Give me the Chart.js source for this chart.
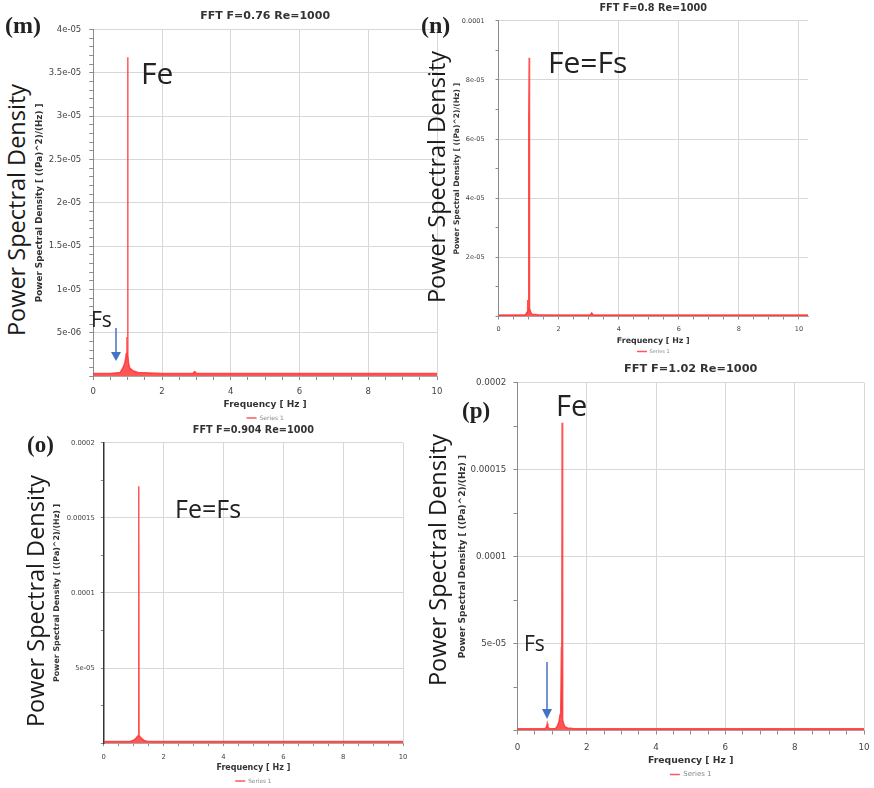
<!DOCTYPE html>
<html>
<head>
<meta charset="utf-8">
<script src="https://cdn.jsdelivr.net/npm/chart.js@4.4.1/dist/chart.umd.min.js"></script>
<style>
  body { margin: 0; width: 874px; height: 788px; background: #fff; overflow: hidden; position: relative; }
  canvas { position: absolute; }
  .tag { position: absolute; font-family: "Liberation Serif", serif; font-weight: bold; color: #222; line-height: 1; white-space: nowrap; }
  .psd { position: absolute; font-family: "Open Sans", sans-serif; font-size: 23.5px; color: #1a1a1a; line-height: 1; white-space: nowrap; transform: translate(-50%, -50%) rotate(-90deg); }
  .ann { position: absolute; font-family: "Open Sans", sans-serif; color: #222; line-height: 1; white-space: nowrap; }
  svg { position: absolute; left: 0; top: 0; }
</style>
</head>
<body>
<canvas id="cm"></canvas>
<canvas id="cn"></canvas>
<canvas id="co"></canvas>
<canvas id="cp"></canvas>

<div class="tag" style="left:5px;top:13px;font-size:24px">(m)</div>
<div class="tag" style="left:421px;top:13px;font-size:24px">(n)</div>
<div class="tag" style="left:27px;top:433px;font-size:23px">(o)</div>
<div class="tag" style="left:462px;top:399px;font-size:23px">(p)</div>

<div class="psd" style="left:17px;top:210px">Power Spectral Density</div>
<div class="psd" style="left:437px;top:177px">Power Spectral Density</div>
<div class="psd" style="left:36px;top:601px">Power Spectral Density</div>
<div class="psd" style="left:438px;top:560px">Power Spectral Density</div>

<div class="ann" style="left:141px;top:58px;font-size:30px">Fe</div>
<div class="ann" style="left:91px;top:309px;font-size:21px">Fs</div>
<div class="ann" style="left:548px;top:47px;font-size:30px">Fe=Fs</div>
<div class="ann" style="left:175px;top:496px;font-size:25px">Fe=Fs</div>
<div class="ann" style="left:556px;top:390px;font-size:29px">Fe</div>
<div class="ann" style="left:524px;top:633px;font-size:21px">Fs</div>

<svg width="874" height="788">
  <g stroke="#4472c4" stroke-width="1.5" fill="#4472c4">
    <line x1="116" y1="328" x2="116" y2="353"/>
    <polygon points="111,352 121,352 116,361" stroke="none"/>
    <line x1="547" y1="662" x2="547" y2="710"/>
    <polygon points="542,709 552,709 547,719" stroke="none"/>
  </g>
</svg>

<script>
// ---- data ----
// (m) FFT F=0.76
var freqM = [0, 0.5, 0.78, 0.84, 0.88, 0.91, 0.94, 0.96, 0.98, 0.99, 1.0, 1.01, 1.03, 1.06, 1.1, 1.15, 1.3, 2, 2.9, 2.95, 3.0, 4, 5, 6, 7, 8, 9, 10];
var psdM  = [3e-7, 3e-7, 4e-7, 8e-7, 1.1e-6, 1.4e-6, 2.0e-6, 2.6e-6, 4.5e-6, 3.0e-6, 3.68e-5, 2.4e-6, 1.4e-6, 9e-7, 8e-7, 6e-7, 4e-7, 3e-7, 3e-7, 5e-7, 3e-7, 3e-7, 3e-7, 3e-7, 3e-7, 3e-7, 3e-7, 3e-7];
// (n) FFT F=0.8
var freqN = [0, 0.5, 0.9, 0.95, 0.97, 0.99, 1.0, 1.01, 1.02, 1.03, 1.05, 1.08, 1.12, 1.3, 2, 3.05, 3.1, 3.15, 4, 5, 6, 7, 8, 9, 10, 10.3];
var psdN  = [5e-7, 5e-7, 6e-7, 1.5e-6, 5.6e-6, 2.5e-6, 3e-6, 6.7e-5, 8.75e-5, 3e-6, 2e-6, 1.2e-6, 8e-7, 6e-7, 5e-7, 5e-7, 1.2e-6, 5e-7, 5e-7, 5e-7, 5e-7, 5e-7, 5e-7, 5e-7, 5e-7, 5e-7];
// (o) FFT F=0.904
var freqO = [0, 0.5, 0.9, 1.0, 1.08, 1.13, 1.16, 1.17, 1.18, 1.22, 1.28, 1.35, 1.45, 2, 4, 6, 8, 10];
var psdO  = [1e-6, 1e-6, 1.2e-6, 2e-6, 3.2e-6, 4.5e-6, 5e-6, 1.71e-4, 5e-6, 4e-6, 2.8e-6, 1.8e-6, 1.2e-6, 1e-6, 1e-6, 1e-6, 1e-6, 1e-6];
// (p) FFT F=1.02
var freqP = [0, 0.5, 0.8, 0.84, 0.86, 0.88, 0.92, 1.1, 1.15, 1.2, 1.23, 1.25, 1.27, 1.28, 1.29, 1.3, 1.31, 1.34, 1.38, 1.45, 1.6, 2, 3, 4, 6, 8, 10];
var psdP  = [1e-6, 1e-6, 1e-6, 2e-6, 4e-6, 2e-6, 1e-6, 1.2e-6, 2.5e-6, 5e-6, 9e-6, 1.1e-5, 4.8e-5, 1.2e-5, 1.77e-4, 1e-5, 6e-6, 3.5e-6, 2e-6, 1.5e-6, 1.2e-6, 1e-6, 1e-6, 1e-6, 1e-6, 1e-6, 1e-6];

// ---- tick labels ----
var xTickVals = [0, 2, 4, 6, 8, 10];
var xTickLabels = ['0', '2', '4', '6', '8', '10'];
var yTickValsM = [0, 5e-6, 1e-5, 1.5e-5, 2e-5, 2.5e-5, 3e-5, 3.5e-5, 4e-5];
var yTickLabelsM = ['', '5e-06', '1e-05', '1.5e-05', '2e-05', '2.5e-05', '3e-05', '3.5e-05', '4e-05'];
var yTickValsN = [0, 2e-5, 4e-5, 6e-5, 8e-5, 1e-4];
var yTickLabelsN = ['', '2e-05', '4e-05', '6e-05', '8e-05', '0.0001'];
var yTickValsO = [0, 5e-5, 1e-4, 1.5e-4, 2e-4];
var yTickLabelsO = ['', '5e-05', '0.0001', '0.00015', '0.0002'];

var titles = ['FFT F=0.76 Re=1000', 'FFT F=0.8 Re=1000', 'FFT F=0.904 Re=1000', 'FFT F=1.02 Re=1000'];
var seriesName = 'Series 1';
var yAxisTitle = 'Power Spectral Density [ ((Pa)^2)/(Hz) ]';
var xAxisTitle = 'Frequency [ Hz ]';

Chart.defaults.font.family = '"DejaVu Sans", sans-serif';
Chart.defaults.color = '#444';

var red = 'rgba(255, 45, 45, 0.8)';

function findIdx(v, list) {
  for (var i = 0; i < list.length; i++) {
    if (Math.abs(list[i] - v) < 1e-12) return i;
  }
  return -1;
}

function stepTicks(max, step) {
  var t = [];
  for (var i = 0; i * step <= max + 1e-12; i++) t.push({ value: +(i * step).toPrecision(10) });
  return t;
}

function makePanel(id, p) {
  var titleLH = p.titleSize * 1.2;
  var titleH = titleLH + (p.titleGap - titleLH / 2);
  var extraTop = 12;
  var cx = p.yTitleX - p.yTitleSize * 1.2 / 2;
  var cy = p.T - titleH - extraTop;
  var yW = p.L - cx;
  var xLabPad = p.xLabGap - p.tl - p.tickSize * 1.2 / 2;
  var xH = p.xTitleGap + p.xTitleSize * 1.2 / 2;
  var legPad = p.legGap - xH - p.legSize / 2;
  var legH = p.legSize + legPad + 10;
  var padR = 16;

  var cv = document.getElementById(id);
  cv.width = Math.round(p.R + padR - cx);
  cv.height = Math.round(p.B + xH + legH - cy);
  cv.style.left = cx + 'px';
  cv.style.top = cy + 'px';

  var pts = p.freq.map(function (f, i) { return { x: f, y: p.psd[i] }; });

  return new Chart(cv, {
    type: 'line',
    data: {
      datasets: [{
        label: seriesName,
        data: pts,
        borderColor: red,
        backgroundColor: red,
        borderWidth: 1.5,
        pointRadius: 0,
        fill: 'origin',
        tension: 0
      }]
    },
    options: {
      responsive: false,
      animation: false,
      layout: { padding: { left: 0, right: padR, top: extraTop, bottom: 0 } },
      plugins: {
        title: {
          display: true, text: p.title, fullSize: false, color: '#333',
          font: { size: p.titleSize, weight: 'bold' },
          padding: { top: 0, bottom: p.titleGap - titleLH / 2 }
        },
        legend: {
          position: 'bottom', fullSize: false,
          labels: {
            usePointStyle: true, pointStyle: 'line', pointStyleWidth: 10,
            font: { size: p.legSize }, padding: legPad, color: '#888'
          }
        },
        tooltip: { enabled: false }
      },
      scales: {
        x: {
          type: 'linear', min: 0, max: p.xMax,
          afterBuildTicks: function (s) { s.ticks = stepTicks(10, 0.5); },
          afterFit: function (s) { s.height = xH; },
          grid: {
            color: function (c) { return findIdx(c.tick.value, xTickVals) >= 0 ? '#d8d8d8' : 'rgba(0,0,0,0)'; },
            tickColor: '#8c8c8c', tickLength: p.tl
          },
          border: { color: '#a8a8a8' },
          ticks: {
            autoSkip: false, maxRotation: 0, minRotation: 0, padding: xLabPad,
            font: { size: p.tickSize }, color: '#444',
            callback: function (v) { var i = findIdx(v, xTickVals); return i >= 0 ? xTickLabels[i] : ''; }
          },
          title: {
            display: true, text: xAxisTitle, color: '#333',
            font: { size: p.xTitleSize, weight: 'bold' }, padding: 0
          }
        },
        y: {
          min: 0, max: p.yMax,
          afterBuildTicks: function (s) { s.ticks = stepTicks(p.yMax, p.yMinor); },
          afterFit: function (s) { s.width = yW; },
          grid: {
            color: function (c) { return findIdx(c.tick.value, p.yVals) >= 0 ? '#d8d8d8' : 'rgba(0,0,0,0)'; },
            tickColor: '#8c8c8c', tickLength: p.tl
          },
          border: { color: p.yBorder, width: p.yBorderW },
          ticks: {
            autoSkip: false, padding: p.yPad,
            font: { size: p.tickSize }, color: '#444',
            callback: function (v) { var i = findIdx(v, p.yVals); return i >= 0 ? p.yLabels[i] : ''; }
          },
          title: {
            display: true, text: yAxisTitle, color: '#333',
            font: { size: p.yTitleSize, weight: 'bold' }, padding: 0
          }
        }
      }
    }
  });
}

// (m)
makePanel('cm', {
  freq: freqM, psd: psdM, title: titles[0],
  L: 93, T: 30, R: 437, B: 376, xMax: 10,
  yMax: 4e-5, yMinor: 1e-6, yVals: yTickValsM, yLabels: yTickLabelsM,
  titleSize: 11, titleGap: 13, tickSize: 8.5, tl: 4, yPad: 8,
  yTitleSize: 8.8, yTitleX: 39, xLabGap: 16, xTitleSize: 9, xTitleGap: 29,
  legSize: 6, legGap: 42, yBorder: '#8a8a8a', yBorderW: 1
});

// (n)
makePanel('cn', {
  freq: freqN, psd: psdN, title: titles[1],
  L: 499, T: 21, R: 808, B: 317, xMax: 10.3,
  yMax: 1e-4, yMinor: 1e-5, yVals: yTickValsN, yLabels: yTickLabelsN,
  titleSize: 9.7, titleGap: 12, tickSize: 6.5, tl: 3, yPad: 11,
  yTitleSize: 7.6, yTitleX: 457, xLabGap: 13, xTitleSize: 7.9, xTitleGap: 24,
  legSize: 5, legGap: 35, yBorder: '#8a8a8a', yBorderW: 1
});

// (o)
makePanel('co', {
  freq: freqO, psd: psdO, title: titles[2],
  L: 104, T: 443, R: 403, B: 743, xMax: 10,
  yMax: 2e-4, yMinor: 2.5e-5, yVals: yTickValsO, yLabels: yTickLabelsO,
  titleSize: 9.7, titleGap: 12, tickSize: 6.8, tl: 3, yPad: 6,
  yTitleSize: 7.9, yTitleX: 57, xLabGap: 14, xTitleSize: 8, xTitleGap: 25,
  legSize: 5.8, legGap: 38, yBorder: '#333', yBorderW: 1.5
});

// (p)
makePanel('cp', {
  freq: freqP, psd: psdP, title: titles[3],
  L: 517, T: 383, R: 864, B: 731, xMax: 10,
  yMax: 2e-4, yMinor: 2.5e-5, yVals: yTickValsO, yLabels: yTickLabelsO,
  titleSize: 11.3, titleGap: 14, tickSize: 8.7, tl: 4, yPad: 7,
  yTitleSize: 9, yTitleX: 462, xLabGap: 17, xTitleSize: 9.25, xTitleGap: 30,
  legSize: 7, legGap: 44, yBorder: '#8a8a8a', yBorderW: 1
});
</script>
</body>
</html>
